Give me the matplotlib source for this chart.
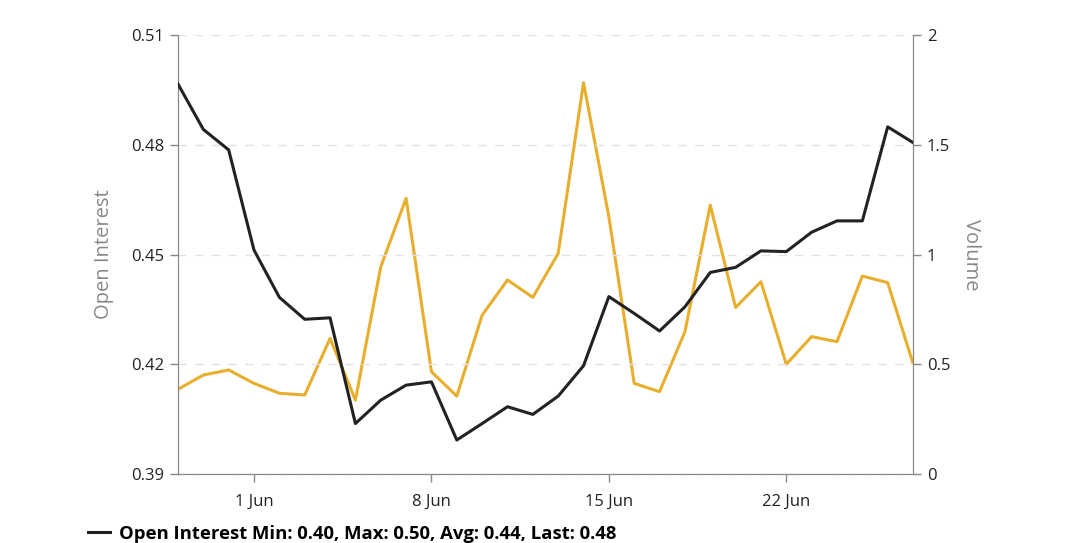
import numpy as np
import pandas as pd
import matplotlib
matplotlib.use('Agg')
import matplotlib.pyplot as plt
import matplotlib.dates as mdates

plt.rcParams['font.family'] = ['Open Sans', 'DejaVu Sans']

dates = pd.date_range('2023-05-29', '2023-06-27', freq='D')
open_interest = [0.4966, 0.4842, 0.4786, 0.4512, 0.4383, 0.4323, 0.4327, 0.4038, 0.4102, 0.4143,
                 0.4152, 0.3993, 0.4038, 0.4084, 0.4063, 0.4113, 0.4196, 0.4385, 0.4339, 0.4291,
                 0.4357, 0.4451, 0.4465, 0.4510, 0.4508, 0.4561, 0.4592, 0.4592, 0.4849, 0.4806]
volume = [0.386, 0.451, 0.474, 0.413, 0.368, 0.360, 0.618, 0.337, 0.944, 1.256,
          0.466, 0.355, 0.724, 0.884, 0.805, 1.005, 1.783, 1.172, 0.413, 0.375,
          0.648, 1.225, 0.759, 0.876, 0.500, 0.626, 0.603, 0.902, 0.872, 0.504]
tick_dates = pd.to_datetime(['2023-06-01', '2023-06-08', '2023-06-15', '2023-06-22'])

fig = plt.figure(figsize=(10.8, 5.43), dpi=100)
ax = fig.add_axes([0.1648, 0.127, 0.8454 - 0.1648, 0.9355 - 0.127])
ax2 = ax.twinx()

gray = '#888888'
oi_line, = ax.plot(dates, open_interest, color='#222222', lw=2.2, zorder=3)
ax2.plot(dates, volume, color='#E8AE2E', lw=2.2)
ax.set_zorder(ax2.get_zorder() + 1)
ax.patch.set_visible(False)

ax.set_xlim(dates[0], dates[-1])
ax.set_ylim(0.39, 0.51)
ax.set_yticks([0.39, 0.42, 0.45, 0.48, 0.51])
ax.set_yticklabels(['0.39', '0.42', '0.45', '0.48', '0.51'])
ax2.set_ylim(0, 2)
ax2.set_yticks([0, 0.5, 1, 1.5, 2])
ax2.set_yticklabels(['0', '0.5', '1', '1.5', '2'])

ax.set_xticks(tick_dates)
ax.xaxis.set_major_formatter(mdates.DateFormatter('%-d %b'))

for a in (ax, ax2):
    a.spines['top'].set_visible(False)
    for s in ('left', 'right', 'bottom'):
        a.spines[s].set_color(gray)
    a.tick_params(colors=gray, labelcolor='#222222', labelsize=12, length=6, width=1)
ax.tick_params(axis='x', pad=8)
ax.tick_params(axis='y', pad=4)
ax2.tick_params(axis='y', pad=4)

ax.grid(axis='y', linestyle=(0, (6, 6)), color='#e2e2e2', lw=1)

ax.set_ylabel('Open Interest', color=gray, fontsize=14.5, labelpad=12)
ax2.set_ylabel('Volume', color=gray, fontsize=14.5, rotation=270, labelpad=22)

oi = np.array(open_interest)
label = 'Open Interest Min: {:.2f}, Max: {:.2f}, Avg: {:.2f}, Last: {:.2f}'.format(
    oi.min(), oi.max(), oi.mean(), oi[-1])
fig.legend([oi_line], [label], loc='lower left', bbox_to_anchor=(0.066, -0.03),
           frameon=False, handlelength=1.2, handletextpad=0.5,
           prop={'weight': 'bold', 'size': 13.3})

fig.savefig('out.png')
